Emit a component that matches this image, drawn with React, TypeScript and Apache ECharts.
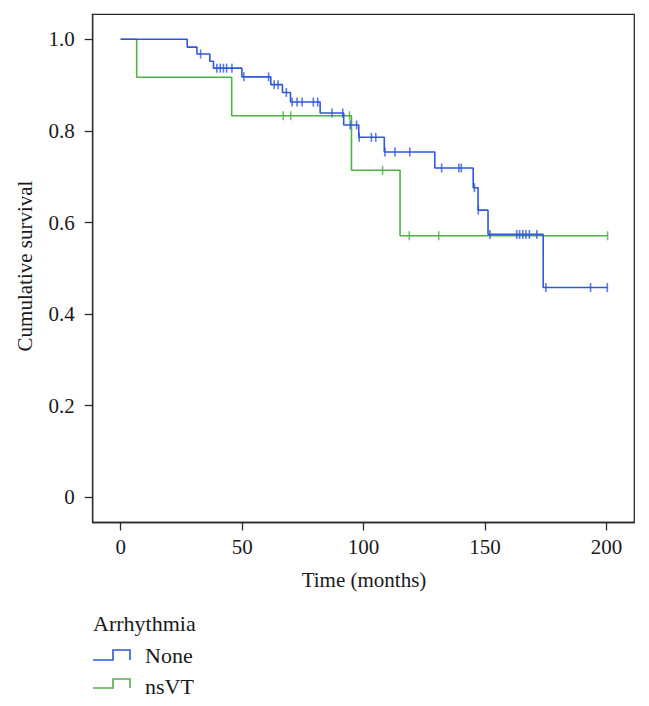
import React, { useEffect, useRef } from "react";
import * as echarts from "echarts";

// Kaplan–Meier step points: time of drop and survival after drop
const noneTimes = [0, 27.4, 31.4, 36.7, 38.2, 49.9, 61.8, 66.6, 69.9, 82.1, 91.8, 98.0, 108.5, 129.3, 145.1, 147.1, 151.2, 173.9, 200.3];
const noneSurv = [1.0, 0.983, 0.968, 0.952, 0.937, 0.918, 0.901, 0.884, 0.863, 0.839, 0.813, 0.786, 0.754, 0.719, 0.676, 0.627, 0.574, 0.458, 0.458];
const noneCensored = [32.9, 39.6, 41.0, 42.3, 43.6, 45.8, 50.7, 60.9, 63.2, 64.8, 68.2, 70.6, 72.6, 74.7, 79.3, 81.1, 87.0, 91.4, 94.5, 97.1, 98.2, 103.2, 105.0, 108.8, 112.9, 119.0, 132.1, 139.2, 140.2, 145.6, 147.2, 152.0, 163.0, 164.2, 165.5, 166.8, 168.2, 171.3, 175.0, 193.4, 200.3];

const nsvtTimes = [0, 6.6, 45.7, 95.0, 115.0, 200.4];
const nsvtSurv = [1.0, 0.917, 0.833, 0.714, 0.571, 0.571];
const nsvtCensored = [66.9, 70.0, 94.2, 107.8, 118.8, 130.9, 200.4];

const xTicks = [0, 50, 100, 150, 200];
const yTicks = [0, 0.2, 0.4, 0.6, 0.8, 1.0];

const groups = ["None", "nsVT"];
const colors = ["#2f57dc", "#50b048"];

const FONT = "'Liberation Serif', 'DejaVu Serif', serif";

function survivalAt(times: number[], surv: number[], t: number) {
  let s = surv[0];
  for (let i = 0; i < times.length; i++) {
    if (times[i] <= t) s = surv[i];
  }
  return s;
}

export default function App() {
  const ref = useRef<HTMLDivElement>(null);
  useEffect(() => {
    if (!ref.current) return;
    const chart = echarts.init(ref.current, undefined, { renderer: "svg" });
    const stepData = (ts: number[], ss: number[]) => ts.map((t, i) => [t, ss[i]]);
    const censData = (c: number[], ts: number[], ss: number[]) => c.map((t) => [t, survivalAt(ts, ss, t)]);
    const tickSym = "rect";
    chart.setOption({
      animation: false,
      grid: {
        left: 92.7,
        top: 14.3,
        right: 14.7,
        bottom: 183.5,
        show: true,
        borderColor: "#2a2a2a",
        borderWidth: 1.3,
        backgroundColor: "#fff",
      },
      xAxis: {
        type: "value",
        min: -11.5,
        max: 211.4,
        splitLine: { show: false },
        axisLine: { show: true, onZero: false, lineStyle: { color: "#2a2a2a", width: 1.3 } },
        axisTick: { show: true, length: 8, customValues: xTicks, lineStyle: { color: "#2a2a2a", width: 1.3 } },
        axisLabel: {
          customValues: xTicks,
          margin: 14,
          color: "#1a1a1a",
          fontFamily: FONT,
          fontSize: 21,
          formatter: (v: number) => String(v),
        },
      },
      yAxis: {
        type: "value",
        min: -0.055,
        max: 1.0546,
        splitLine: { show: false },
        axisLine: { show: true, onZero: false, lineStyle: { color: "#2a2a2a", width: 1.3 } },
        axisTick: { show: true, length: 8, customValues: yTicks, lineStyle: { color: "#2a2a2a", width: 1.3 } },
        axisLabel: {
          customValues: yTicks,
          margin: 18,
          color: "#1a1a1a",
          fontFamily: FONT,
          fontSize: 21,
          formatter: (v: number) => (v === 0 ? "0" : v.toFixed(1)),
        },
      },
      series: [
        {
          name: groups[1],
          type: "line",
          step: "end",
          data: stepData(nsvtTimes, nsvtSurv),
          showSymbol: false,
          lineStyle: { color: colors[1], width: 1.6 },
          z: 2,
        },
        {
          name: groups[1] + " censored",
          type: "scatter",
          data: censData(nsvtCensored, nsvtTimes, nsvtSurv),
          symbol: tickSym,
          symbolSize: [1.6, 9],
          itemStyle: { color: colors[1] },
          z: 2,
        },
        {
          name: groups[0],
          type: "line",
          step: "end",
          data: stepData(noneTimes, noneSurv),
          showSymbol: false,
          lineStyle: { color: colors[0], width: 1.6 },
          z: 3,
        },
        {
          name: groups[0] + " censored",
          type: "scatter",
          data: censData(noneCensored, noneTimes, noneSurv),
          symbol: tickSym,
          symbolSize: [1.6, 9],
          itemStyle: { color: colors[0] },
          z: 3,
        },
      ],
      graphic: [
        {
          type: "text",
          x: 364,
          y: 580,
          style: { text: "Time (months)", font: `21px ${FONT}`, fill: "#1a1a1a", textAlign: "center", textVerticalAlign: "middle" },
        },
        {
          type: "text",
          x: 25,
          y: 266,
          rotation: Math.PI / 2,
          style: { text: "Cumulative survival", font: `21px ${FONT}`, fill: "#1a1a1a", textAlign: "center", textVerticalAlign: "middle" },
        },
        {
          type: "text",
          x: 93,
          y: 623,
          style: { text: "Arrhythmia", font: `22px ${FONT}`, fill: "#1a1a1a", textAlign: "left", textVerticalAlign: "middle" },
        },
        {
          type: "polyline",
          shape: { points: [[93, 660], [113, 660], [113, 650], [130, 650], [130, 660]] },
          style: { stroke: colors[0], lineWidth: 1.6, fill: "none" },
        },
        {
          type: "text",
          x: 145,
          y: 655,
          style: { text: groups[0], font: `22px ${FONT}`, fill: "#1a1a1a", textAlign: "left", textVerticalAlign: "middle" },
        },
        {
          type: "polyline",
          shape: { points: [[93, 688], [113, 688], [113, 679], [130, 679], [130, 688]] },
          style: { stroke: colors[1], lineWidth: 1.6, fill: "none" },
        },
        {
          type: "text",
          x: 145,
          y: 686,
          style: { text: groups[1], font: `22px ${FONT}`, fill: "#1a1a1a", textAlign: "left", textVerticalAlign: "middle" },
        },
      ],
    });
    return () => chart.dispose();
  }, []);
  return <div ref={ref} style={{ position: "fixed", left: 0, top: 0, width: 649, height: 706, background: "#fff" }} />;
}
